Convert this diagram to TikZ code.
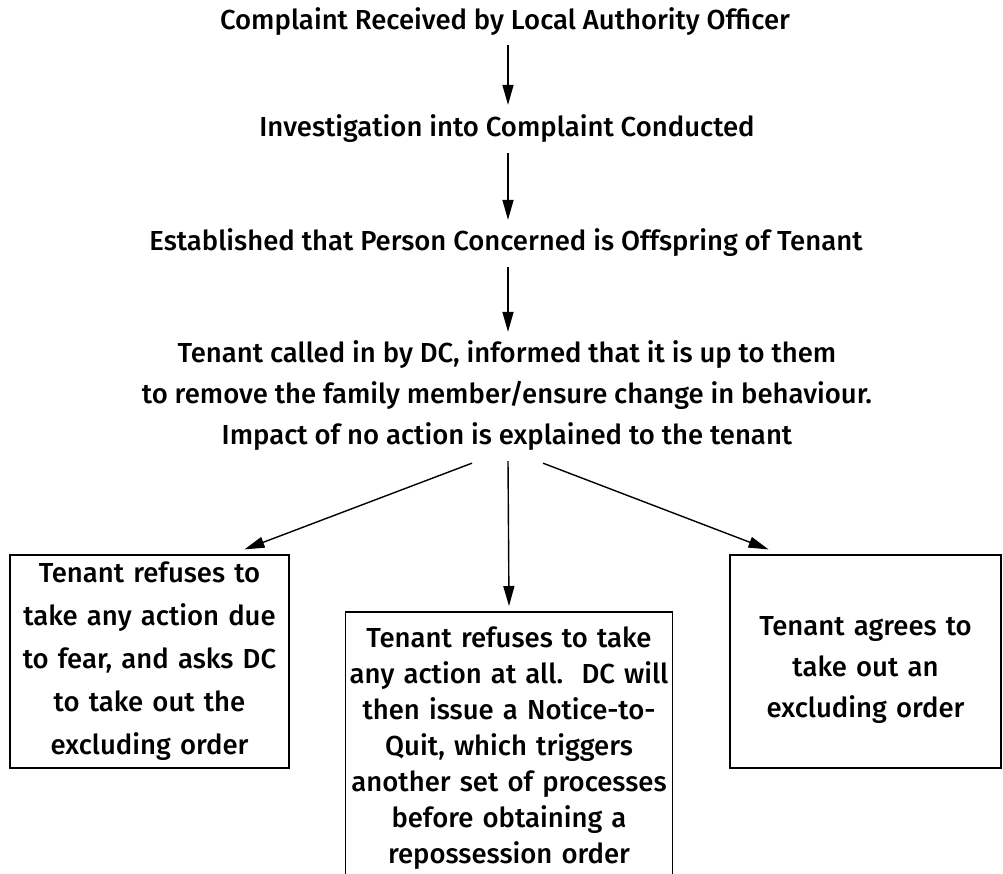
\documentclass[tikz,border=0pt]{standalone}
\usepackage{fontspec}
\setmainfont{Fira Sans}[UprightFont=* Medium]
\usetikzlibrary{arrows.meta}
\begin{document}
\begin{tikzpicture}[x=1pt,y=-1pt,
  lbl/.style={font=\fontsize{27.5}{41}\selectfont, inner sep=0pt, align=center},
  boxtext/.style={font=\fontsize{27.5}{36}\selectfont, align=center},
  framebox/.style={draw, line width=1.2pt, boxtext},
  arr/.style={line width=1.4pt, -{Triangle[length=20pt,width=11pt]}}]
\useasboundingbox (0,0) rectangle (1003,873);
\node[lbl] (t1) at (505,22) {Complaint Received by Local Authority Officer};
\node[lbl] (t2) at (507,129) {Investigation into Complaint Conducted};
\node[lbl] (t3) at (506,243) {Established that Person Concerned is Offspring of Tenant};
\node[lbl] (t4) at (507,396) {Tenant called in by DC, informed that it is up to them\\
  to remove the family member/ensure change in behaviour.\\
  Impact of no action is explained to the tenant};
\node[framebox, font=\fontsize{27.5}{43}\selectfont, minimum width=279pt, minimum height=213pt, text width=275pt, inner xsep=2pt] (lbox) at (149.5,661.5)
  {Tenant refuses to\\ take any action due\\ to fear, and asks DC\\ to take out the\\ excluding order};
\node[framebox, font=\fontsize{27.5}{41}\selectfont, minimum width=271pt, minimum height=213pt, text width=267pt, inner xsep=2pt] (rbox) at (865.5,661.5)
  {\rule{0pt}{36pt}Tenant agrees to\\ take out an\\ excluding order};
\node[boxtext, anchor=north, minimum width=326pt, text width=322pt, inner xsep=2pt, inner ysep=15pt] (mbox) at (509,612)
  {Tenant refuses to take\\ any action at all.\ \ DC will\\ then issue a Notice-to-\\ Quit, which triggers\\
   another set of processes\\ before obtaining a\\ repossession order};
\draw[line width=1.2pt] (mbox.north west) ++(0,300) -- (mbox.north west) -- (mbox.north east) -- ++(0,300);
\draw[arr, shorten <=9pt, shorten >=10pt] ([xshift=3pt]t1.south) -- ([xshift=1pt]t2.north);
\draw[arr, shorten <=10pt, shorten >=9pt] ([xshift=1pt]t2.south) -- ([xshift=2pt]t3.north);
\draw[arr, shorten <=10pt, shorten >=9pt] ([xshift=2pt]t3.south) -- ([xshift=1pt]t4.north);
\draw[arr] ([xshift=-35pt,yshift=-12pt]t4.south) -- ([xshift=95pt,yshift=5pt]lbox.north);
\draw[arr] ([xshift=1pt,yshift=-10pt]t4.south) -- ([yshift=6pt]mbox.north);
\draw[arr] ([xshift=36pt,yshift=-12pt]t4.south) -- ([xshift=-97pt,yshift=5pt]rbox.north);
\end{tikzpicture}
\end{document}
